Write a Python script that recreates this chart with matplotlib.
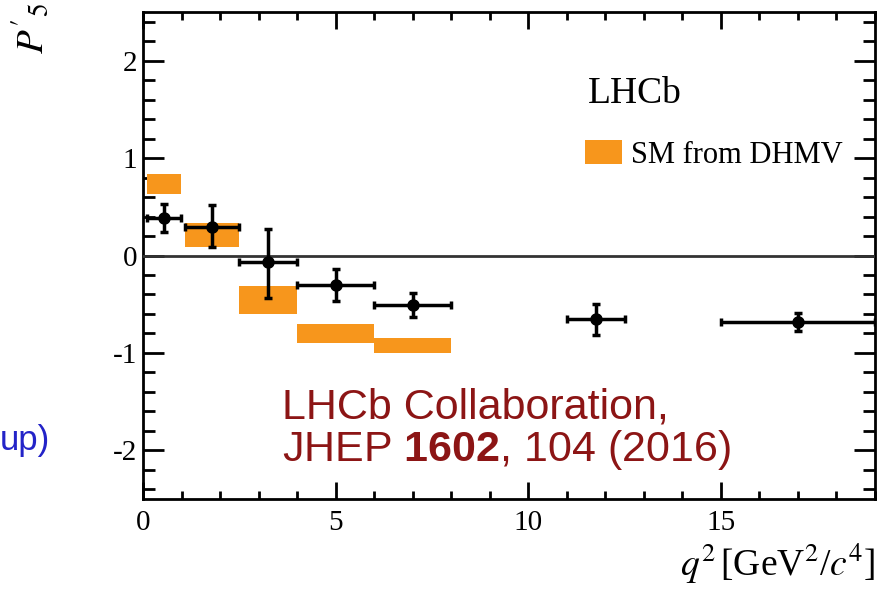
import matplotlib
matplotlib.use("Agg")
import matplotlib.pyplot as plt
from matplotlib.ticker import MultipleLocator

plt.rcParams['font.family'] = ['Liberation Serif', 'DejaVu Serif']
plt.rcParams['axes.unicode_minus'] = False
plt.rcParams['mathtext.fontset'] = 'custom'
plt.rcParams['mathtext.rm'] = 'Liberation Sans'
plt.rcParams['mathtext.bf'] = 'Liberation Sans:bold'

# LHCb data points (q2 bins and P5')
q2_lo = [0.1, 1.1, 2.5, 4.0, 6.0, 11.0, 15.0]
q2_hi = [0.98, 2.5, 4.0, 6.0, 8.0, 12.5, 19.0]
q2_mid = [0.54, 1.8, 3.25, 5.0, 7.0, 11.75, 17.0]
p5 = [0.387, 0.289, -0.066, -0.300, -0.505, -0.655, -0.684]
p5_up = [0.145, 0.225, 0.343, 0.158, 0.122, 0.155, 0.094]
p5_dn = [0.150, 0.205, 0.370, 0.163, 0.122, 0.160, 0.090]

# SM prediction boxes (DHMV)
sm_lo = [0.1, 1.1, 2.5, 4.0, 6.0]
sm_hi = [0.98, 2.5, 4.0, 6.0, 8.0]
sm_min = [0.633, 0.087, -0.600, -0.897, -0.996]
sm_max = [0.832, 0.334, -0.312, -0.704, -0.852]

orange = '#f7961c'

fig = plt.figure(figsize=(8.78, 5.89), dpi=100)
ax = fig.add_axes([143/878, 1 - 499/589, (875 - 143)/878, (499 - 12)/589])

widths = [h - l for l, h in zip(sm_lo, sm_hi)]
heights = [h - l for l, h in zip(sm_min, sm_max)]
ax.bar(sm_lo, heights, width=widths, bottom=sm_min, align='edge',
       color=orange, linewidth=0, label='SM from DHMV', zorder=2)

ax.axhline(0, color='#333333', lw=2, zorder=3)

xerr = [[m - l for m, l in zip(q2_mid, q2_lo)], [h - m for m, h in zip(q2_mid, q2_hi)]]
ax.errorbar(q2_mid, p5, xerr=xerr, yerr=[p5_dn, p5_up], fmt='o', color='black',
            ms=8, elinewidth=2.5, capsize=3, capthick=2.5, zorder=4)

ax.set_xlim(0, 19)
ax.set_ylim(-2.5, 2.5)
ax.xaxis.set_major_locator(MultipleLocator(5))
ax.xaxis.set_minor_locator(MultipleLocator(1))
ax.yaxis.set_major_locator(MultipleLocator(1))
ax.yaxis.set_minor_locator(MultipleLocator(0.2))
ax.tick_params(which='both', direction='in', top=True, right=True, width=2, labelsize=21)
ax.tick_params(axis='x', which='major', length=12, pad=8)
ax.tick_params(axis='x', which='minor', length=6)
ax.tick_params(axis='y', which='major', length=15, pad=4)
ax.tick_params(axis='y', which='minor', length=8.5)
for s in ax.spines.values():
    s.set_linewidth(2)

ax.set_xlabel(r"$q^{2}\,$[GeV$^{2}$/$c^{4}$]", loc='right', fontsize=27, labelpad=4,
              math_fontfamily='stix')
fig.text(32/878, 1 - 2/589, r"$P^{\prime}{}_{5}$", rotation=90, ha='center', va='top',
         fontsize=28, math_fontfamily='stix')

fig.text(588/878, 1 - 103/589, 'LHCb', fontsize=27, ha='left', va='baseline')
ax.legend(loc='center left', bbox_to_anchor=(585/878, 1 - 155/589),
          bbox_transform=fig.transFigure, frameon=False, fontsize=22,
          handlelength=1.2, handleheight=0.85, handletextpad=0.3,
          borderpad=0, borderaxespad=0)

red = '#8c1515'
fig.text(282/878, 1 - 418/589, 'LHCb Collaboration,', color=red, fontsize=31,
         family='Liberation Sans', ha='left', va='baseline')
fig.text(282/878, 1 - 461/589, r'JHEP $\mathbf{1602}$, 104 (2016)', color=red, fontsize=31,
         family='Liberation Sans', ha='left', va='baseline')
fig.text(50/878, 1 - 450/589, 'up)', color='#2323c8', fontsize=25,
         family='Liberation Sans', ha='right', va='baseline')

fig.savefig('out.png', dpi=100)
